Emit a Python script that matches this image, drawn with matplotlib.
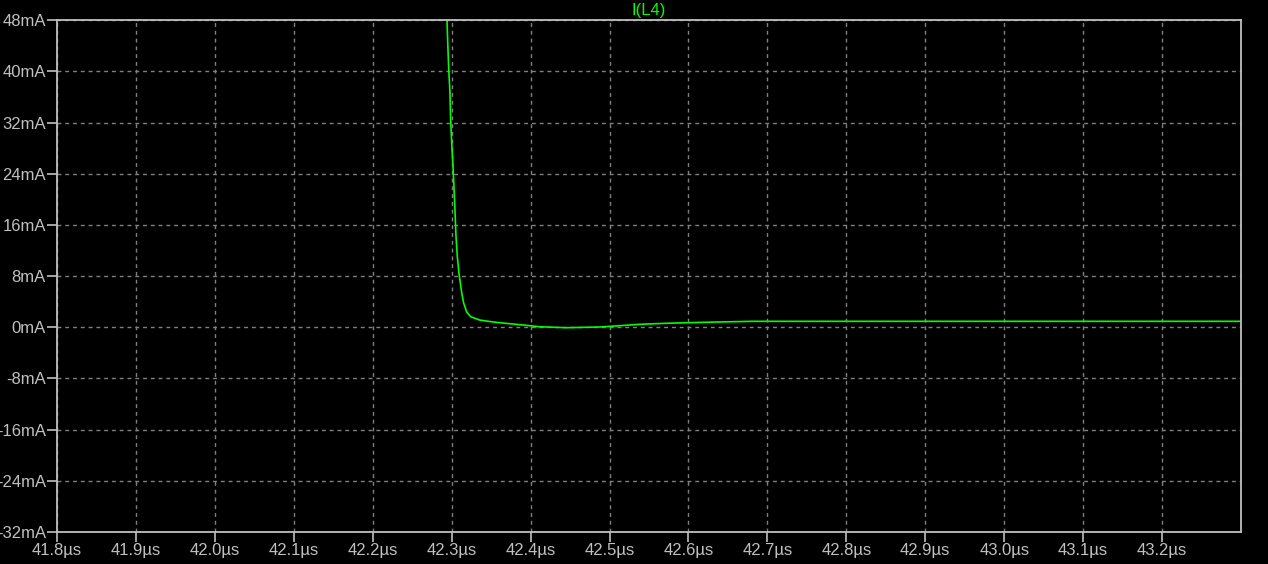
import numpy as np
import matplotlib.pyplot as plt

# time in microseconds, current in mA
t_us = [42.2935, 42.2941, 42.2949, 42.2962, 42.2978, 42.2987, 42.3004, 42.3016,
        42.3025, 42.3042, 42.3054, 42.3072, 42.3092, 42.3127, 42.3152, 42.3190,
        42.3241, 42.3354, 42.3481, 42.3608, 42.3772, 42.3946, 42.4114, 42.4452,
        42.4873, 42.5127, 42.5380, 42.5718, 42.6177, 42.6810, 43.2990]
i_ma = [50.0, 48.0, 44.9, 40.5, 36.8, 32.4, 28.0, 25.4,
        23.0, 18.3, 14.4, 11.0, 8.5, 5.4, 3.8, 2.4,
        1.66, 1.14, 0.91, 0.72, 0.52, 0.31, 0.09, -0.06,
        0.05, 0.25, 0.47, 0.63, 0.78, 0.94, 0.94]

x_ticks = np.round(np.arange(41.8, 43.25, 0.1), 1)
y_ticks = np.arange(-32, 49, 8)

plt.rcParams['font.family'] = ['Liberation Sans', 'DejaVu Sans']

fig = plt.figure(figsize=(12.68, 5.64), dpi=100, facecolor='black')
ax = fig.add_axes([57/1268, 1-532/564, (1241-57)/1268, (532-20.3)/564])
ax.set_facecolor('black')

ax.plot(t_us, i_ma, color='#00ff00', linewidth=1.2, clip_on=True)

ax.set_xlim(41.8, 43.3)
ax.set_ylim(-32, 48)
ax.set_xticks(x_ticks)
ax.set_xticklabels([f'{v:.1f}\u00b5s' for v in x_ticks])
ax.set_yticks(y_ticks)
# plain hyphen as minus, like the original
ax.set_yticklabels([f'{v}mA' for v in y_ticks])

fg = '#c0c0c0'
for s in ax.spines.values():
    s.set_color(fg)
    s.set_linewidth(1.3)
ax.tick_params(colors=fg, labelcolor=fg, labelsize=12, length=7, width=1.2, pad=1)
ax.grid(True, color='#808080', linestyle=(0, (2.8, 2.8)), linewidth=1.0)

ax.set_title('I(L4)', color='#00ff00', fontsize=12, pad=4)

fig.savefig('out.png', dpi=100, facecolor='black')
